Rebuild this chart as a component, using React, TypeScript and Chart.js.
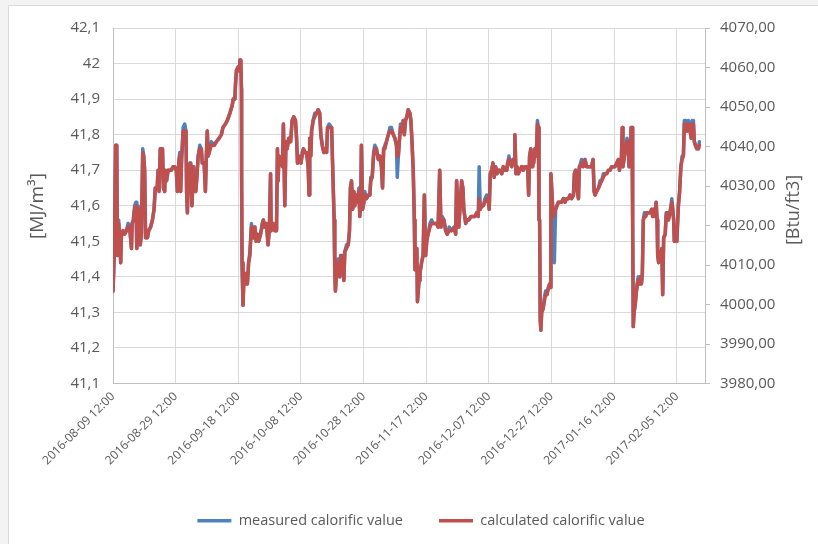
import React, { useEffect, useRef } from 'react';
import { Chart, registerables } from 'chart.js';

Chart.register(...registerables);

// X tick labels (every 20 days starting 2016-08-09 12:00)
const tickLabels = [
  '2016-08-09 12:00', '2016-08-29 12:00', '2016-09-18 12:00', '2016-10-08 12:00', '2016-10-28 12:00',
  '2016-11-17 12:00', '2016-12-07 12:00', '2016-12-27 12:00', '2017-01-16 12:00', '2017-02-05 12:00',
];

const seriesNames = ['measured calorific value', 'calculated calorific value'];
const leftTitle = '[MJ/m\u00B3]';
const rightTitle = '[Btu/ft3]';

// days since 2016-08-09 12:00
const days = [
  0, 0.4, 0.85, 1.2, 1.4, 1.8, 2.2, 2.45, 2.7, 3.2,
  3.7, 4.3, 4.8, 5.3, 5.9, 6.1, 6.5, 6.9, 7.35, 7.6,
  8.0, 8.4, 8.7, 9.05, 9.5, 9.8, 10.1, 10.4, 11.0, 11.4,
  12.0, 12.6, 13.1, 13.5, 14.1, 14.4, 14.7, 15.1, 15.8, 16.1,
  16.5, 16.7, 17.1, 17.6, 18.1, 18.6, 19.2, 19.7, 20.2, 20.55,
  21.0, 21.3, 21.6, 21.9, 22.4, 22.9, 23.3, 23.5, 23.75, 24.1,
  24.5, 24.8, 25.2, 25.7, 26.1, 26.4, 26.7, 27.2, 27.7, 28.2,
  28.5, 29.1, 29.5, 29.8, 30.1, 30.35, 30.7, 31.4, 32.3, 33.0,
  33.9, 34.6, 35.1, 35.9, 36.5, 37.3, 38.0,
  38.4, 38.9, 39.1, 39.4, 39.9, 40.25, 40.5, 40.8, 41.0, 41.05,
  41.2, 41.5, 41.85, 42.3, 42.6, 42.9, 43.3, 43.7, 44.2, 44.6,
  44.9, 45.3, 45.7, 46.1, 46.5, 47.1, 47.6, 48.0, 48.45, 49.0,
  49.5, 49.95, 50.3, 50.5, 51.1, 51.65, 52.2, 52.5, 52.7, 53.0,
  53.6, 54.1, 54.4, 54.85, 55.2, 55.6, 56.1, 56.7, 57.2, 57.7,
  58.25, 58.6, 58.9, 59.3, 60.0, 60.4, 60.8, 61.2, 61.8, 62.3,
  62.6, 62.8, 63.15, 63.4, 63.9, 64.4, 65.0, 65.5, 66.0, 66.35,
  66.8, 67.3, 67.8, 68.2, 68.5, 69.0, 69.8, 70.1, 70.6, 70.8,
  71.0, 71.5, 71.9, 72.4, 72.7, 73.3, 73.7, 74.0, 74.55, 75.1,
  75.5, 75.8, 76.15,
  76.5, 76.9, 77.2, 77.7, 78.1, 78.5, 78.8, 79.1, 79.3, 79.7,
  80.1, 80.4, 80.9, 81.5, 82.0, 82.3, 82.75, 83.2, 83.6, 84.1,
  84.7, 85.2, 85.7, 86.05, 86.4, 86.8, 87.3, 87.9, 88.4, 88.9,
  89.5, 90.0, 90.5, 90.75, 91.1, 91.4, 91.8, 92.3, 92.65, 93.0,
  93.4, 93.8, 94.25, 94.8, 95.1, 95.4, 95.85, 96.2, 96.4, 96.7,
  97.0, 97.2, 97.7, 98.0, 98.5, 99.0, 99.4, 99.8, 100.2, 100.6,
  101.2, 101.7, 102.2, 102.8, 103.3, 103.8, 104.3, 104.7, 105.1, 105.65,
  106.2, 106.7, 107.35, 108.1, 108.95, 109.4, 109.7, 110.1, 110.4, 110.9,
  111.3, 111.7, 112.0, 112.6, 113.0, 113.6, 114.3, 115.0,
  115.55, 116.1, 116.6, 116.9, 117.25, 117.7, 118.2, 118.75, 119.3, 119.8,
  120.1, 120.45, 120.9, 121.3, 121.7, 122.15, 122.6, 123.0, 123.5, 124.1,
  124.6, 125.1, 125.7, 126.0, 126.4, 126.8, 127.3, 127.7, 128.1, 128.3,
  128.65, 129.0, 129.4, 129.9, 130.5, 131.0, 131.5, 132.1, 132.4, 132.7,
  133.0, 133.4, 133.8, 134.0, 134.3, 134.7, 135.15, 135.5, 135.8, 136.0,
  136.2, 136.4, 136.6, 136.85, 137.3, 137.7, 138.1, 138.55, 139.0, 139.4,
  139.7, 139.8, 140.05, 140.4, 140.7, 140.9, 141.3, 141.75, 142.2, 142.7,
  143.2, 143.8, 144.3, 144.8, 145.4, 145.9, 146.4, 147.0, 147.3, 147.7,
  148.1, 148.6, 148.9, 149.3, 149.6, 150.1, 150.5, 150.7, 151.2, 151.8,
  152.3, 152.8,
  153.25, 153.6, 153.9, 154.4, 155.0, 155.5, 156.0, 156.55, 157.1, 157.6,
  158.15, 158.7, 159.2, 159.75, 160.3, 160.8, 161.35, 161.7, 162.0, 162.3,
  162.6, 162.8, 163.3, 163.7, 164.1, 164.5, 164.75, 165.1, 165.4, 165.7,
  165.9, 166.1, 166.35, 166.7, 167.0, 167.3, 167.7, 168.05, 168.4, 168.7,
  169.0, 169.3, 169.65, 170.1, 170.5, 170.9, 171.5, 172.0, 172.3, 172.6,
  173.1, 173.4, 173.7, 173.9, 174.2, 174.55, 174.9, 175.2, 175.5, 175.8,
  176.3, 176.6, 176.9, 177.3, 177.6, 178.0, 178.4, 178.7, 179.0, 179.2,
  179.6, 180.0, 180.3, 180.5, 180.9, 181.3, 181.7, 182.1, 182.4, 182.9,
  183.3, 183.7, 184.1, 184.6, 184.9, 185.3, 185.6, 185.95, 186.4, 186.9,
  187.2,
];

// calculated calorific value [MJ/m3]
const calculated = [
  41.36, 41.46, 41.77, 41.77, 41.46, 41.55, 41.50, 41.44, 41.52, 41.53,
  41.52, 41.53, 41.54, 41.54, 41.48, 41.55, 41.56, 41.59, 41.60, 41.48,
  41.59, 41.58, 41.49, 41.52, 41.75, 41.74, 41.70, 41.51, 41.51, 41.53,
  41.54, 41.56, 41.59, 41.65, 41.65, 41.70, 41.64, 41.76, 41.76, 41.65,
  41.64, 41.70, 41.67, 41.70, 41.70, 41.70, 41.71, 41.71, 41.70, 41.64,
  41.72, 41.74, 41.64, 41.73, 41.81, 41.81, 41.81, 41.64, 41.58, 41.71,
  41.71, 41.72, 41.60, 41.71, 41.65, 41.64, 41.67, 41.74, 41.76, 41.76,
  41.72, 41.72, 41.64, 41.74, 41.81, 41.74, 41.75, 41.77, 41.77, 41.78,
  41.79, 41.80, 41.82, 41.83, 41.84, 41.86, 41.88,
  41.90, 41.90, 41.94, 41.98, 41.99, 41.98, 42.01, 42.01, 41.93, 41.70,
  41.44, 41.32, 41.41, 41.38, 41.41, 41.38, 41.44, 41.46, 41.54, 41.53,
  41.51, 41.54, 41.50, 41.52, 41.50, 41.52, 41.54, 41.56, 41.54, 41.55,
  41.49, 41.54, 41.69, 41.53, 41.55, 41.53, 41.53, 41.76, 41.67, 41.74,
  41.73, 41.71, 41.83, 41.60, 41.78, 41.76, 41.79, 41.78, 41.84, 41.85,
  41.84, 41.79, 41.72, 41.74, 41.72, 41.74, 41.76, 41.75, 41.75, 41.71,
  41.63, 41.79, 41.74, 41.81, 41.84, 41.85, 41.86, 41.87, 41.86, 41.80,
  41.77, 41.75, 41.76, 41.75, 41.82, 41.82, 41.82, 41.72, 41.56, 41.42,
  41.36, 41.43, 41.44, 41.40, 41.46, 41.45, 41.39, 41.47, 41.48, 41.49,
  41.53, 41.65, 41.67,
  41.59, 41.64, 41.60, 41.63, 41.61, 41.64, 41.57, 41.61, 41.77, 41.59,
  41.61, 41.63, 41.62, 41.63, 41.63, 41.67, 41.68, 41.74, 41.76, 41.76,
  41.73, 41.74, 41.71, 41.65, 41.76, 41.76, 41.78, 41.80, 41.81, 41.81,
  41.80, 41.79, 41.77, 41.74, 41.74, 41.78, 41.82, 41.81, 41.84, 41.80,
  41.84, 41.85, 41.87, 41.86, 41.84, 41.79, 41.70, 41.56, 41.42, 41.46,
  41.48, 41.33, 41.39, 41.41, 41.44, 41.46, 41.63, 41.46, 41.50, 41.52,
  41.54, 41.55, 41.55, 41.55, 41.55, 41.54, 41.70, 41.54, 41.56, 41.56,
  41.53, 41.52, 41.53, 41.53, 41.54, 41.52, 41.67, 41.59, 41.54, 41.61,
  41.67, 41.65, 41.59, 41.55, 41.56, 41.56, 41.57, 41.57,
  41.57, 41.58, 41.57, 41.62, 41.59, 41.60, 41.60, 41.61, 41.62, 41.62,
  41.59, 41.69, 41.70, 41.72, 41.68, 41.71, 41.69, 41.70, 41.70, 41.69,
  41.71, 41.70, 41.70, 41.72, 41.73, 41.72, 41.71, 41.73, 41.72, 41.80,
  41.69, 41.71, 41.69, 41.70, 41.71, 41.70, 41.71, 41.71, 41.71, 41.63,
  41.74, 41.76, 41.71, 41.72, 41.72, 41.76, 41.74, 41.83, 41.82, 41.56,
  41.56, 41.28, 41.25, 41.30, 41.31, 41.33, 41.35, 41.35, 41.37, 41.38,
  41.37, 41.69, 41.65, 41.59, 41.57, 41.58, 41.59, 41.60, 41.61, 41.61,
  41.61, 41.62, 41.61, 41.62, 41.62, 41.63, 41.62, 41.63, 41.69, 41.70,
  41.65, 41.62, 41.71, 41.71, 41.72, 41.71, 41.72, 41.73, 41.71, 41.71,
  41.71, 41.71,
  41.73, 41.64, 41.63, 41.64, 41.65, 41.66, 41.67, 41.68, 41.69, 41.69,
  41.70, 41.70, 41.71, 41.71, 41.71, 41.72, 41.73, 41.70, 41.72, 41.73,
  41.82, 41.71, 41.74, 41.76, 41.78, 41.77, 41.71, 41.72, 41.82, 41.82,
  41.56, 41.26, 41.30, 41.32, 41.35, 41.37, 41.39, 41.38, 41.40, 41.38,
  41.41, 41.56, 41.57, 41.57, 41.58, 41.58, 41.58, 41.59, 41.57, 41.59,
  41.57, 41.61, 41.56, 41.46, 41.44, 41.47, 41.46, 41.48, 41.35, 41.51,
  41.52, 41.57, 41.58, 41.56, 41.57, 41.59, 41.61, 41.59, 41.56, 41.50,
  41.50, 41.50, 41.56, 41.60, 41.64, 41.71, 41.73, 41.74, 41.83, 41.83,
  41.81, 41.83, 41.82, 41.79, 41.83, 41.83, 41.78, 41.77, 41.76, 41.76,
  41.77,
];

// measured calorific value [MJ/m3]
const measured = [
  41.36, 41.46, 41.77, 41.77, 41.46, 41.56, 41.50, 41.44, 41.52, 41.53,
  41.52, 41.53, 41.55, 41.54, 41.48, 41.55, 41.56, 41.60, 41.61, 41.48,
  41.60, 41.58, 41.49, 41.52, 41.76, 41.74, 41.70, 41.51, 41.51, 41.53,
  41.54, 41.56, 41.59, 41.65, 41.65, 41.70, 41.64, 41.76, 41.76, 41.65,
  41.64, 41.70, 41.67, 41.70, 41.70, 41.70, 41.71, 41.71, 41.70, 41.64,
  41.72, 41.75, 41.64, 41.73, 41.82, 41.83, 41.81, 41.64, 41.58, 41.71,
  41.72, 41.72, 41.60, 41.71, 41.65, 41.64, 41.67, 41.74, 41.77, 41.76,
  41.72, 41.72, 41.64, 41.74, 41.81, 41.74, 41.75, 41.78, 41.77, 41.78,
  41.79, 41.80, 41.82, 41.83, 41.84, 41.86, 41.88,
  41.90, 41.90, 41.94, 41.98, 41.99, 41.98, 42.01, 42.01, 41.93, 41.70,
  41.44, 41.32, 41.41, 41.38, 41.41, 41.38, 41.44, 41.47, 41.55, 41.53,
  41.51, 41.54, 41.50, 41.52, 41.50, 41.52, 41.55, 41.56, 41.54, 41.55,
  41.49, 41.54, 41.69, 41.53, 41.55, 41.53, 41.53, 41.76, 41.67, 41.74,
  41.73, 41.71, 41.83, 41.60, 41.78, 41.76, 41.79, 41.78, 41.84, 41.85,
  41.84, 41.79, 41.72, 41.74, 41.72, 41.75, 41.76, 41.75, 41.75, 41.71,
  41.63, 41.79, 41.74, 41.81, 41.84, 41.86, 41.86, 41.87, 41.86, 41.80,
  41.77, 41.75, 41.76, 41.75, 41.82, 41.83, 41.82, 41.72, 41.56, 41.42,
  41.36, 41.43, 41.45, 41.40, 41.46, 41.46, 41.39, 41.47, 41.49, 41.49,
  41.53, 41.65, 41.67,
  41.59, 41.64, 41.60, 41.63, 41.61, 41.65, 41.57, 41.61, 41.77, 41.59,
  41.61, 41.64, 41.62, 41.63, 41.63, 41.68, 41.68, 41.75, 41.77, 41.76,
  41.73, 41.74, 41.71, 41.65, 41.76, 41.77, 41.78, 41.80, 41.82, 41.82,
  41.80, 41.79, 41.77, 41.68, 41.74, 41.78, 41.83, 41.81, 41.84, 41.80,
  41.84, 41.85, 41.87, 41.86, 41.84, 41.79, 41.70, 41.56, 41.42, 41.46,
  41.48, 41.33, 41.39, 41.41, 41.44, 41.46, 41.63, 41.46, 41.51, 41.52,
  41.55, 41.56, 41.55, 41.55, 41.55, 41.54, 41.70, 41.54, 41.57, 41.56,
  41.53, 41.52, 41.54, 41.53, 41.54, 41.52, 41.67, 41.59, 41.54, 41.61,
  41.67, 41.65, 41.59, 41.55, 41.56, 41.56, 41.57, 41.57,
  41.57, 41.58, 41.57, 41.71, 41.59, 41.60, 41.60, 41.62, 41.63, 41.62,
  41.59, 41.69, 41.70, 41.72, 41.68, 41.71, 41.69, 41.70, 41.70, 41.69,
  41.71, 41.70, 41.70, 41.72, 41.74, 41.72, 41.71, 41.73, 41.72, 41.80,
  41.69, 41.71, 41.69, 41.70, 41.71, 41.70, 41.71, 41.71, 41.71, 41.63,
  41.74, 41.76, 41.71, 41.72, 41.72, 41.76, 41.74, 41.84, 41.82, 41.56,
  41.56, 41.28, 41.25, 41.30, 41.31, 41.34, 41.36, 41.35, 41.37, 41.38,
  41.37, 41.69, 41.65, 41.59, 41.57, 41.44, 41.59, 41.60, 41.61, 41.61,
  41.61, 41.62, 41.61, 41.62, 41.62, 41.63, 41.62, 41.63, 41.69, 41.70,
  41.65, 41.62, 41.71, 41.72, 41.73, 41.71, 41.72, 41.73, 41.71, 41.71,
  41.71, 41.71,
  41.73, 41.64, 41.63, 41.64, 41.65, 41.67, 41.67, 41.69, 41.69, 41.69,
  41.70, 41.70, 41.71, 41.71, 41.71, 41.72, 41.73, 41.70, 41.72, 41.73,
  41.82, 41.71, 41.74, 41.76, 41.79, 41.77, 41.71, 41.72, 41.82, 41.82,
  41.56, 41.26, 41.30, 41.32, 41.35, 41.38, 41.40, 41.38, 41.40, 41.38,
  41.41, 41.56, 41.58, 41.58, 41.58, 41.58, 41.58, 41.59, 41.57, 41.59,
  41.57, 41.61, 41.56, 41.46, 41.44, 41.47, 41.46, 41.48, 41.35, 41.51,
  41.52, 41.58, 41.58, 41.56, 41.57, 41.59, 41.62, 41.59, 41.56, 41.50,
  41.50, 41.50, 41.56, 41.60, 41.64, 41.71, 41.74, 41.74, 41.84, 41.84,
  41.81, 41.84, 41.82, 41.79, 41.84, 41.84, 41.78, 41.77, 41.76, 41.76,
  41.78,
];

const TEXT = '#595959';
const GRID = '#d9d9d9';
const AXIS = '#bfbfbf';
const FONT = '"Open Sans", sans-serif';
const BLUE = '#4F81BD';
const RED = '#C0504D';

const axisTitles = {
  id: 'axisTitles',
  afterDraw(chart: any) {
    const { ctx } = chart;
    ctx.save();
    ctx.fillStyle = TEXT;
    ctx.font = '19px ' + FONT;
    ctx.textAlign = 'center';
    ctx.textBaseline = 'middle';
    ctx.translate(29, 200);
    ctx.rotate(-Math.PI / 2);
    ctx.fillText(leftTitle, 0, 0);
    ctx.restore();
    ctx.save();
    ctx.fillStyle = TEXT;
    ctx.font = '18px ' + FONT;
    ctx.textAlign = 'center';
    ctx.textBaseline = 'middle';
    ctx.translate(785, 204);
    ctx.rotate(-Math.PI / 2);
    ctx.fillText(rightTitle, 0, 0);
    ctx.restore();
  },
};

export default function App() {
  const ref = useRef<HTMLCanvasElement>(null);
  useEffect(() => {
    const canvas = ref.current;
    if (!canvas) return;
    const chart = new Chart(canvas, {
      type: 'line',
      data: {
        datasets: [
          {
            label: seriesNames[0],
            data: days.map((d, i) => ({ x: d, y: measured[i] })),
            borderColor: BLUE,
            backgroundColor: BLUE,
            borderWidth: 3.5,
            pointRadius: 0,
            tension: 0,
            borderJoinStyle: 'round',
            borderCapStyle: 'round',
            order: 1,
            yAxisID: 'y',
          },
          {
            label: seriesNames[1],
            data: days.map((d, i) => ({ x: d, y: calculated[i] })),
            borderColor: RED,
            backgroundColor: RED,
            borderWidth: 3.5,
            pointRadius: 0,
            tension: 0,
            borderJoinStyle: 'round',
            borderCapStyle: 'round',
            order: 0,
            yAxisID: 'y',
          },
        ],
      },
      options: {
        responsive: false,
        animation: false,
        devicePixelRatio: 1,
        layout: { padding: { top: 18.5, bottom: 6, left: 14, right: 0 } },
        plugins: {
          tooltip: { enabled: false },
          legend: {
            position: 'bottom',
            labels: {
              usePointStyle: true,
              pointStyle: 'line',
              pointStyleWidth: 34,
              color: TEXT,
              font: { family: FONT, size: 14.5 },
              padding: 36,
              sort: (a: any, b: any) => a.datasetIndex - b.datasetIndex,
            },
          },
        },
        scales: {
          x: {
            type: 'linear',
            min: 0,
            max: 189,
            afterFit: (s: any) => { s.height = 94; },
            grid: { color: GRID, drawTicks: false },
            border: { color: AXIS },
            ticks: {
              stepSize: 20,
              includeBounds: false,
              autoSkip: false,
              maxRotation: 45,
              minRotation: 45,
              padding: 6,
              color: TEXT,
              font: { family: FONT, size: 12 },
              callback: (v: any) => tickLabels[Math.round(Number(v) / 20)] ?? '',
            },
          },
          y: {
            position: 'left',
            min: 41.1,
            max: 42.1,
            afterFit: (s: any) => { s.width = 90; },
            grid: { color: GRID, drawTicks: false },
            border: { color: AXIS },
            ticks: {
              stepSize: 0.1,
              padding: 13,
              color: TEXT,
              font: { family: FONT, size: 15 },
              callback: (v: any) => String(Math.round(Number(v) * 10) / 10).replace('.', ','),
            },
          },
          y2: {
            position: 'right',
            min: 3980,
            max: 4070,
            afterFit: (s: any) => { s.width = 114; },
            grid: { drawOnChartArea: false, color: AXIS, tickLength: 5 },
            border: { color: AXIS },
            ticks: {
              stepSize: 10,
              padding: 10,
              color: TEXT,
              font: { family: FONT, size: 15 },
              callback: (v: any) => Number(v).toFixed(2).replace('.', ','),
            },
          },
        },
      },
      plugins: [axisTitles],
    } as any);
    return () => chart.destroy();
  }, []);

  return (
    <div style={{ position: 'fixed', inset: 0, background: '#f3f3f3', overflow: 'hidden' }}>
      <div
        style={{
          position: 'absolute',
          left: 8,
          top: 5,
          width: 810,
          height: 538,
          background: '#ffffff',
          border: '1px solid #d9d9d9',
        }}
      >
        <canvas ref={ref} width={810} height={538} style={{ display: 'block', width: 810, height: 538 }} />
      </div>
    </div>
  );
}
